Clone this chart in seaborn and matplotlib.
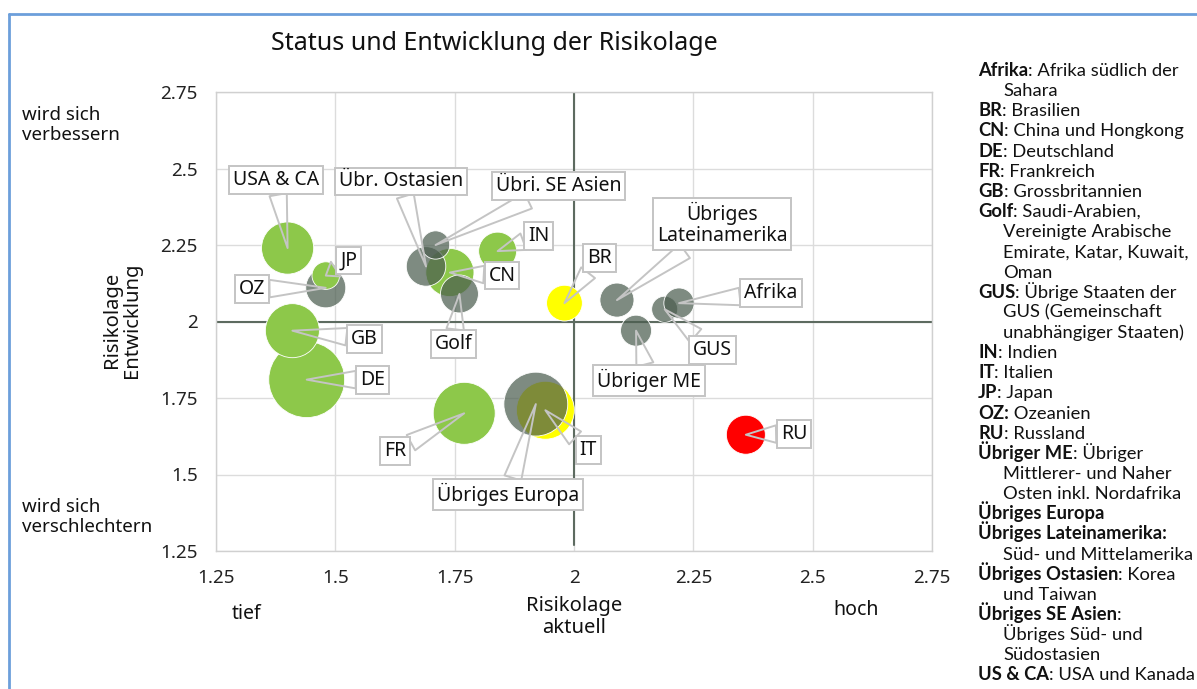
import numpy as np
import pandas as pd
import matplotlib
matplotlib.use("Agg")
import matplotlib.pyplot as plt
import seaborn as sns
from matplotlib.lines import Line2D

# ---------------- data ----------------
regionen = ["OZ", "DE", "GB", "USA & CA", "JP", "CN", "IN", "FR", "BR", "IT",
            "Übr. Ostasien", "Übri. SE Asien", "Golf", "Übriges Europa",
            "Übriges Lateinamerika", "Übriger ME", "GUS", "Afrika", "RU"]
label_text = ["OZ", "DE", "GB", "USA & CA", "JP", "CN", "IN", "FR", "BR", "IT",
              "Übr. Ostasien", "Übri. SE Asien", "Golf", "Übriges Europa",
              "Übriges\nLateinamerika", "Übriger ME", "GUS", "Afrika", "RU"]
aktuell = [1.48, 1.44, 1.41, 1.40, 1.48, 1.74, 1.84, 1.77, 1.98, 1.94,
           1.69, 1.71, 1.76, 1.92, 2.09, 2.13, 2.19, 2.22, 2.36]
entwicklung = [2.11, 1.81, 1.97, 2.24, 2.15, 2.16, 2.23, 1.70, 2.06, 1.71,
               2.18, 2.25, 2.09, 1.73, 2.07, 1.97, 2.04, 2.06, 1.63]
groesse = [4.0, 14.4, 7.3, 6.8, 1.9, 5.8, 3.6, 9.6, 3.2, 8.4,
           3.9, 2.0, 3.6, 10.2, 2.9, 2.4, 1.7, 2.3, 3.8]
gruppe = ["grau", "gruen", "gruen", "gruen", "gruen", "gruen", "gruen", "gruen", "gelb", "gelb",
          "grau", "grau", "grau", "grau", "grau", "grau", "grau", "grau", "rot"]

tick_werte = [1.25, 1.5, 1.75, 2.0, 2.25, 2.5, 2.75]
tick_labels = ["1.25", "1.5", "1.75", "2", "2.25", "2.5", "2.75"]

legende = [
    ("Afrika", ": Afrika südlich der", False), ("", "Sahara", True),
    ("BR", ": Brasilien", False), ("CN", ": China und Hongkong", False),
    ("DE", ": Deutschland", False), ("FR", ": Frankreich", False),
    ("GB", ": Grossbritannien", False), ("Golf", ": Saudi-Arabien,", False),
    ("", "Vereinigte Arabische", True), ("", "Emirate, Katar, Kuwait,", True),
    ("", "Oman", True), ("GUS", ": Übrige Staaten der", False),
    ("", "GUS (Gemeinschaft", True), ("", "unabhängiger Staaten)", True),
    ("IN", ": Indien", False), ("IT", ": Italien", False), ("JP", ": Japan", False),
    ("OZ:", " Ozeanien", False), ("RU", ": Russland", False),
    ("Übriger ME", ": Übriger", False), ("", "Mittlerer- und Naher", True),
    ("", "Osten inkl. Nordafrika", True), ("Übriges Europa", "", False),
    ("Übriges Lateinamerika:", "", False), ("", "Süd- und Mittelamerika", True),
    ("Übriges Ostasien", ": Korea", False), ("", "und Taiwan", True),
    ("Übriges SE Asien", ":", False), ("", "Übriges Süd- und", True),
    ("", "Südostasien", True), ("US & CA", ": USA und Kanada", False),
]

# label layout (pixel offsets of callout boxes from bubble centres)
label_dx = [-74, 66, 72, -12, 23, 52, 41, -69, 35, 43, -25, 123, -6, -28, 105, 13, 48, 92, 48]
label_dy = [-1, 0, -8, 68, 15, -3, 15, -38, 45, -40, 85, 59, -50, -90, 76, -50, -41, 10, 1]

df = pd.DataFrame({"region": regionen, "aktuell": aktuell, "entwicklung": entwicklung,
                   "groesse": groesse, "gruppe": gruppe})

# ---------------- style ----------------
sns.set_style("white")
plt.rcParams["font.family"] = ["Noto Sans", "DejaVu Sans"]

W, H = 1197, 689
fig = plt.figure(figsize=(W / 100, H / 100), dpi=100)
ax = fig.add_axes([216 / W, 1 - 551 / H, (932 - 216) / W, (551 - 92) / H])

def fx(x):
    return x / W

def fy(y):
    return 1 - y / H

palette = {"gruen": "#8DC84A", "grau": "#4C5E50B8", "gelb": "#FFFF00", "rot": "#FF0000"}
smax = max(groesse)
sns.scatterplot(data=df, x="aktuell", y="entwicklung", hue="gruppe", palette=palette,
                size="groesse", sizes=(0, 207.4 * smax), size_norm=(0, smax),
                legend=False, edgecolor="white", linewidth=0.6, ax=ax, zorder=3)

ax.set_xlim(1.25, 2.75)
ax.set_ylim(1.25, 2.75)
ax.set_xticks(tick_werte)
ax.set_xticklabels(tick_labels)
ax.set_yticks(tick_werte)
ax.set_yticklabels(tick_labels)
ax.tick_params(length=0, labelsize=13.5, colors="#222222")
ax.tick_params(axis="y", pad=13)
ax.tick_params(axis="x", pad=13)
ax.grid(True, color="#dcdcdc", lw=1)
ax.set_axisbelow(True)
for s in ax.spines.values():
    s.set_color("#d0d0d0")
    s.set_linewidth(1)
ax.set_xlabel("")
ax.set_ylabel("")
ax.axhline(2.0, color="#5d6b60", lw=1.5, zorder=2)
ax.axvline(2.0, color="#5d6b60", lw=1.5, zorder=2, ymax=1.0, ymin=0.012)

# callouts
for i in range(len(regionen)):
    ax.annotate(label_text[i], xy=(aktuell[i], entwicklung[i]), xycoords="data",
                xytext=(label_dx[i], label_dy[i]), textcoords="offset pixels",
                ha="center", va="center", multialignment="center",
                fontsize=14, color="#111111", zorder=5, linespacing=1.1,
                bbox=dict(boxstyle="square,pad=0.2", fc="white", ec="#c4c4c4", lw=1.4),
                arrowprops=dict(arrowstyle="wedge,tail_width=0.9,shrink_factor=0.5",
                                fc="none", ec="#c4c4c4", lw=1.4, shrinkA=0, shrinkB=0))

# titles and side texts
fig.text(fx(494), fy(44), "Status und Entwicklung der Risikolage", ha="center", va="center",
         fontsize=18, color="#111111")
fig.text(fx(22), fy(125), "wird sich\nverbessern", ha="left", va="center", fontsize=13.5,
         color="#111111", linespacing=1.1)
fig.text(fx(22), fy(517), "wird sich\nverschlechtern", ha="left", va="center", fontsize=13.5,
         color="#111111", linespacing=1.1)
fig.text(fx(122), fy(320), "Risikolage\nEntwicklung", ha="center", va="center", rotation=90,
         fontsize=14.5, color="#111111", linespacing=1.05)
fig.text(fx(574), fy(617), "Risikolage\naktuell", ha="center", va="center",
         fontsize=14.5, color="#111111", linespacing=1.1)
fig.text(fx(247), fy(614), "tief", ha="center", va="center", fontsize=14, color="#111111")
fig.text(fx(856), fy(610), "hoch", ha="center", va="center", fontsize=14, color="#111111")

# legend text block
renderer = fig.canvas.get_renderer()
y0 = 76
dy = 20.15
lfam = ["Lato", "DejaVu Sans"]
for k, (fett, rest, einzug) in enumerate(legende):
    y = y0 + k * dy
    x = 1003 if einzug else 978
    if fett:
        t = fig.text(fx(x), fy(y), fett, ha="left", va="baseline", fontsize=13.2,
                     fontweight="bold", color="#111111", family=lfam)
        bb = t.get_window_extent(renderer)
        x = bb.x1
    if rest:
        fig.text(fx(x), fy(y), rest, ha="left", va="baseline", fontsize=13.2,
                 color="#111111", family=lfam)

# frame lines of the chart area
fig.add_artist(Line2D([fx(9), fx(9)], [0, fy(14)], color="#6C9FDB", lw=2))
fig.add_artist(Line2D([fx(9), 1], [fy(14), fy(14)], color="#6C9FDB", lw=2))

fig.savefig("out.png", dpi=100)
